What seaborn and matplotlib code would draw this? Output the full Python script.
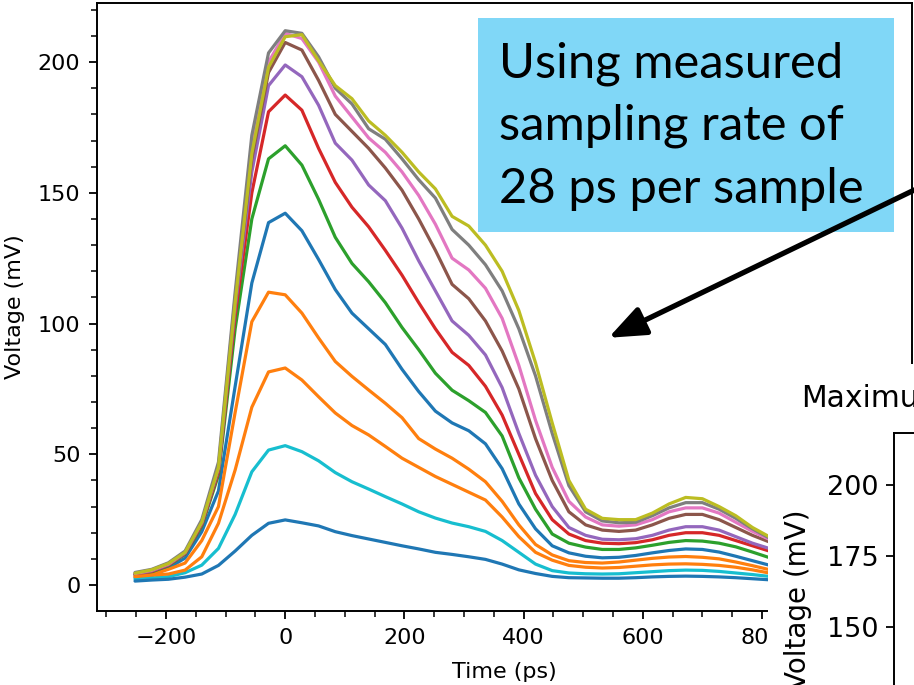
import matplotlib
matplotlib.use("Agg")
import matplotlib.pyplot as plt
from matplotlib.patches import Rectangle, FancyArrowPatch
from matplotlib.ticker import MultipleLocator
import pandas as pd
import seaborn as sns

# ---------------- data ----------------
time_ps = [-252, -224, -196, -168, -140, -112, -84, -56, -28, 0, 28, 56, 84, 112,
           140, 168, 196, 224, 252, 280, 308, 336, 364, 392, 420, 448, 476, 504,
           532, 560, 588, 616, 644, 672, 700, 728, 756, 784, 812, 840]

trace_blue_142 = [2.8, 3.5, 6.5, 10.3, 20.4, 36, 76, 115.5, 138.6, 142.2, 135.5, 124.5, 113, 104,
                  98, 92, 82.5, 74, 66.5, 62, 59, 54, 44.5, 31, 21.5, 15, 12.3, 11, 10.4, 10.6,
                  11.3, 12.3, 13.2, 13.8, 13.6, 12.6, 11, 9.3, 7.6, 6.5]
trace_orange_112 = [3.3, 4, 6, 8.4, 17, 30, 66, 100.7, 112, 111, 104, 94.5, 85.5, 79.8,
                    74.6, 69.5, 64, 56, 52, 48.5, 44.3, 39.5, 32, 23, 15.5, 11.5, 9.3, 8.6, 8.4, 8.8,
                    9.5, 10.2, 10.7, 10.9, 10.6, 10, 8.8, 7.4, 5.9, 5.2]
trace_green_168 = [3.9, 5, 7.4, 11.8, 22.5, 42, 98, 140, 163, 168, 160.6, 147.5, 133, 123,
                   116, 108, 98.5, 90, 81, 74.5, 70.5, 66, 57, 41, 29, 19.5, 16, 14.5, 13.6, 13.6,
                   14.2, 15.2, 16.3, 17, 16.8, 16, 14.6, 12.6, 10.5, 9.3]
trace_red_187 = [4, 5.2, 7.6, 12, 23, 43, 103, 150, 181, 187.4, 181.6, 167, 154, 144.5,
                 137, 128, 118.5, 108, 98, 89, 84, 76, 65, 50, 35, 25, 19.5, 17, 16, 15.8,
                 16.2, 17.3, 19, 20, 20, 19, 17, 15, 13, 11.5]
trace_purple_199 = [4.2, 5.4, 7.8, 12.2, 23.5, 44, 106, 158, 191, 198.9, 194.4, 183.5, 169, 162.5,
                    153, 147, 136.5, 124, 112.5, 101, 95.5, 88, 75.5, 58, 42, 30, 22, 19, 17.5, 17.3,
                    17.7, 19, 21, 22.3, 22.3, 21, 18.5, 16, 14, 12.5]
trace_brown_208 = [4.3, 5.5, 8, 12.3, 23.5, 44, 108, 163, 196, 207.5, 204.6, 193, 180, 173.5,
                   167, 159.5, 151, 140, 128, 115, 109.5, 101, 89.5, 75, 56, 40, 28, 23, 21, 20.5,
                   21, 23, 25.5, 27, 27, 25, 22, 19, 16.5, 14]
trace_pink_211 = [4.4, 5.6, 8, 12.5, 24, 45, 110, 167, 200, 211, 209, 200, 187, 179,
                  171, 165.5, 158, 149, 138, 125, 120.5, 113.5, 102, 84, 63, 45, 32, 26, 23, 22.5,
                  23, 25, 28, 29.5, 29.5, 27.5, 24, 20.5, 17.5, 15]
trace_gray_212 = [4.8, 6, 8.5, 13, 25, 47, 112, 172, 203.5, 212, 211, 202, 190, 184,
                  174.5, 170.5, 163, 155, 148, 136, 130, 122.5, 112.5, 98, 80, 58, 38, 28, 24.5, 23.8,
                  24, 26.5, 29.5, 31.5, 31.5, 29, 25.5, 21.5, 18, 15.5]
trace_olive_210 = [4.5, 5.8, 8.2, 12.5, 24, 45, 108, 165, 198, 209.7, 210.5, 200.5, 191, 186,
                   177.5, 172, 165.5, 158, 151.5, 141, 137.3, 130, 120, 105, 85, 62, 40, 29, 25.5, 25,
                   25, 27.5, 31, 33.5, 33, 30, 26.5, 22, 18.5, 16]
trace_cyan_53 = [2.2, 2.7, 3.2, 4.7, 7.6, 14, 27, 43.3, 51.6, 53.3, 51, 47.5, 43, 39.5,
                 36.7, 33.8, 31, 28, 25.6, 23.7, 22.3, 20.5, 17, 12.5, 8, 5.5, 4.6, 4.3, 4.2, 4.3,
                 4.7, 5.1, 5.5, 5.7, 5.6, 5.2, 4.6, 4, 3.3, 3]
trace_blue_25 = [1.5, 1.9, 2.2, 3, 4.2, 7.5, 13, 19, 23.6, 24.9, 23.8, 22.6, 20.4, 18.9,
                 17.6, 16.3, 15, 13.8, 12.5, 11.7, 10.8, 9.8, 8, 5.8, 4.4, 3.3, 2.8, 2.7, 2.6, 2.6,
                 2.8, 3.1, 3.3, 3.4, 3.3, 3.1, 2.8, 2.4, 2, 1.8]
trace_orange_83 = [3.2, 3.8, 4.2, 5.7, 10.8, 23.6, 44, 68, 81.5, 83, 78.4, 72, 65.8, 61,
                   57.4, 53, 48.5, 45, 41.5, 38.5, 35.5, 32.5, 26, 18.5, 12.5, 9.5, 7.5, 6.8, 6.5, 6.7,
                   7.2, 7.7, 8, 8.1, 7.9, 7.5, 6.8, 5.8, 4.6, 4.1]

trace_names = ["trace 1", "trace 2", "trace 3", "trace 4", "trace 5", "trace 6",
               "trace 7", "trace 8", "trace 9", "trace 10", "trace 11", "trace 12"]
trace_values = [trace_blue_142, trace_orange_112, trace_green_168, trace_red_187,
                trace_purple_199, trace_brown_208, trace_pink_211, trace_gray_212,
                trace_olive_210, trace_cyan_53, trace_blue_25, trace_orange_83]
trace_colors = ["#1f77b4", "#ff7f0e", "#2ca02c", "#d62728", "#9467bd", "#8c564b",
                "#e377c2", "#7f7f7f", "#bcbd22", "#17becf", "#1f77b4", "#ff7f0e"]

x_ticks = [-200, 0, 200, 400, 600, 800]
y_ticks = [0, 50, 100, 150, 200]
inset_y_ticks = [150, 175, 200]

callout_lines = ["Using measured", "sampling rate of", "28 ps per sample"]

# ---------------- long-form table ----------------
rows = []
for name, vals in zip(trace_names, trace_values):
    for t, v in zip(time_ps, vals):
        rows.append({"time": t, "voltage": v, "trace": name})
df = pd.DataFrame(rows)

# ---------------- style ----------------
sns.set_style("ticks", rc={"axes.edgecolor": "black", "xtick.color": "black",
                           "ytick.color": "black", "text.color": "black",
                           "axes.labelcolor": "black"})
plt.rcParams["font.family"] = ["DejaVu Sans"]

W, H = 914, 685
fig = plt.figure(figsize=(W / 100, H / 100), dpi=100)


def fx(px):
    return px / W


def fy(py):
    return 1 - py / H


# main axes
ax = fig.add_axes([fx(97), fy(611), fx(912) - fx(97), fy(3) - fy(611)])
sns.lineplot(data=df, x="time", y="voltage", hue="trace", hue_order=trace_names,
             palette=trace_colors, legend=False, linewidth=2.3, estimator=None,
             sort=False, ax=ax)
ax.set_xlim(-315.8, 1051.7)
ax.set_ylim(-9.94, 222.6)
ax.set_xticks(x_ticks)
ax.set_yticks(y_ticks)
ax.xaxis.set_minor_locator(MultipleLocator(50))
ax.yaxis.set_minor_locator(MultipleLocator(10))
ax.tick_params(which="major", length=6, width=1.3, labelsize=16, pad=6)
ax.tick_params(which="minor", length=4.5, width=1.1)
for s in ax.spines.values():
    s.set_linewidth(1.4)
    s.set_visible(True)
ax.set_xlabel("Time (ps)", fontsize=16, labelpad=10)
ax.set_ylabel("Voltage (mV)", fontsize=16, labelpad=9)

# white panel of the second (cropped) plot
fig.patches.append(Rectangle((fx(768), 0), 1.0, fy(364), transform=fig.transFigure,
                             facecolor="white", edgecolor="none", zorder=1))

# second plot (cropped at figure edge)
ax2 = fig.add_axes([fx(894), fy(800), 0.7, fy(433) - fy(800)])
ax2.set_zorder(2)
ax2.set_facecolor("white")
ax2.set_ylim(89.1, 218.3)
ax2.set_xlim(0, 1)
ax2.set_yticks(inset_y_ticks)
ax2.set_xticks([])
ax2.tick_params(axis="y", length=6, width=1.3, labelsize=19.5, pad=5)
for s in ax2.spines.values():
    s.set_linewidth(1.4)
ax2.set_ylabel("Voltage (mV)", fontsize=20)
ax2.yaxis.set_label_coords((812 - 894) / (0.7 * W), (800 - 600) / (800 - 433))
fig.text(fx(801), fy(407), "Maximum", fontsize=21.5, va="baseline", ha="left", zorder=3)

# callout box
fig.patches.append(Rectangle((fx(478), fy(232)), fx(894) - fx(478), fy(18) - fy(232),
                             transform=fig.transFigure, facecolor="#80D7F7",
                             edgecolor="none", zorder=3))
for line, base in zip(callout_lines, [77, 140, 203]):
    fig.text(fx(499), fy(base), line, fontsize=35.3, family=["Lato", "DejaVu Sans"],
             va="baseline", ha="left", zorder=4)

# arrow
arrow = FancyArrowPatch((fx(935), fy(180)), (fx(606), fy(339)),
                        transform=fig.transFigure,
                        arrowstyle="-|>,head_length=1.5,head_width=0.6",
                        mutation_scale=15, linewidth=3.8, color="black", zorder=5)
fig.patches.append(arrow)

fig.savefig("out.png", dpi=100)
